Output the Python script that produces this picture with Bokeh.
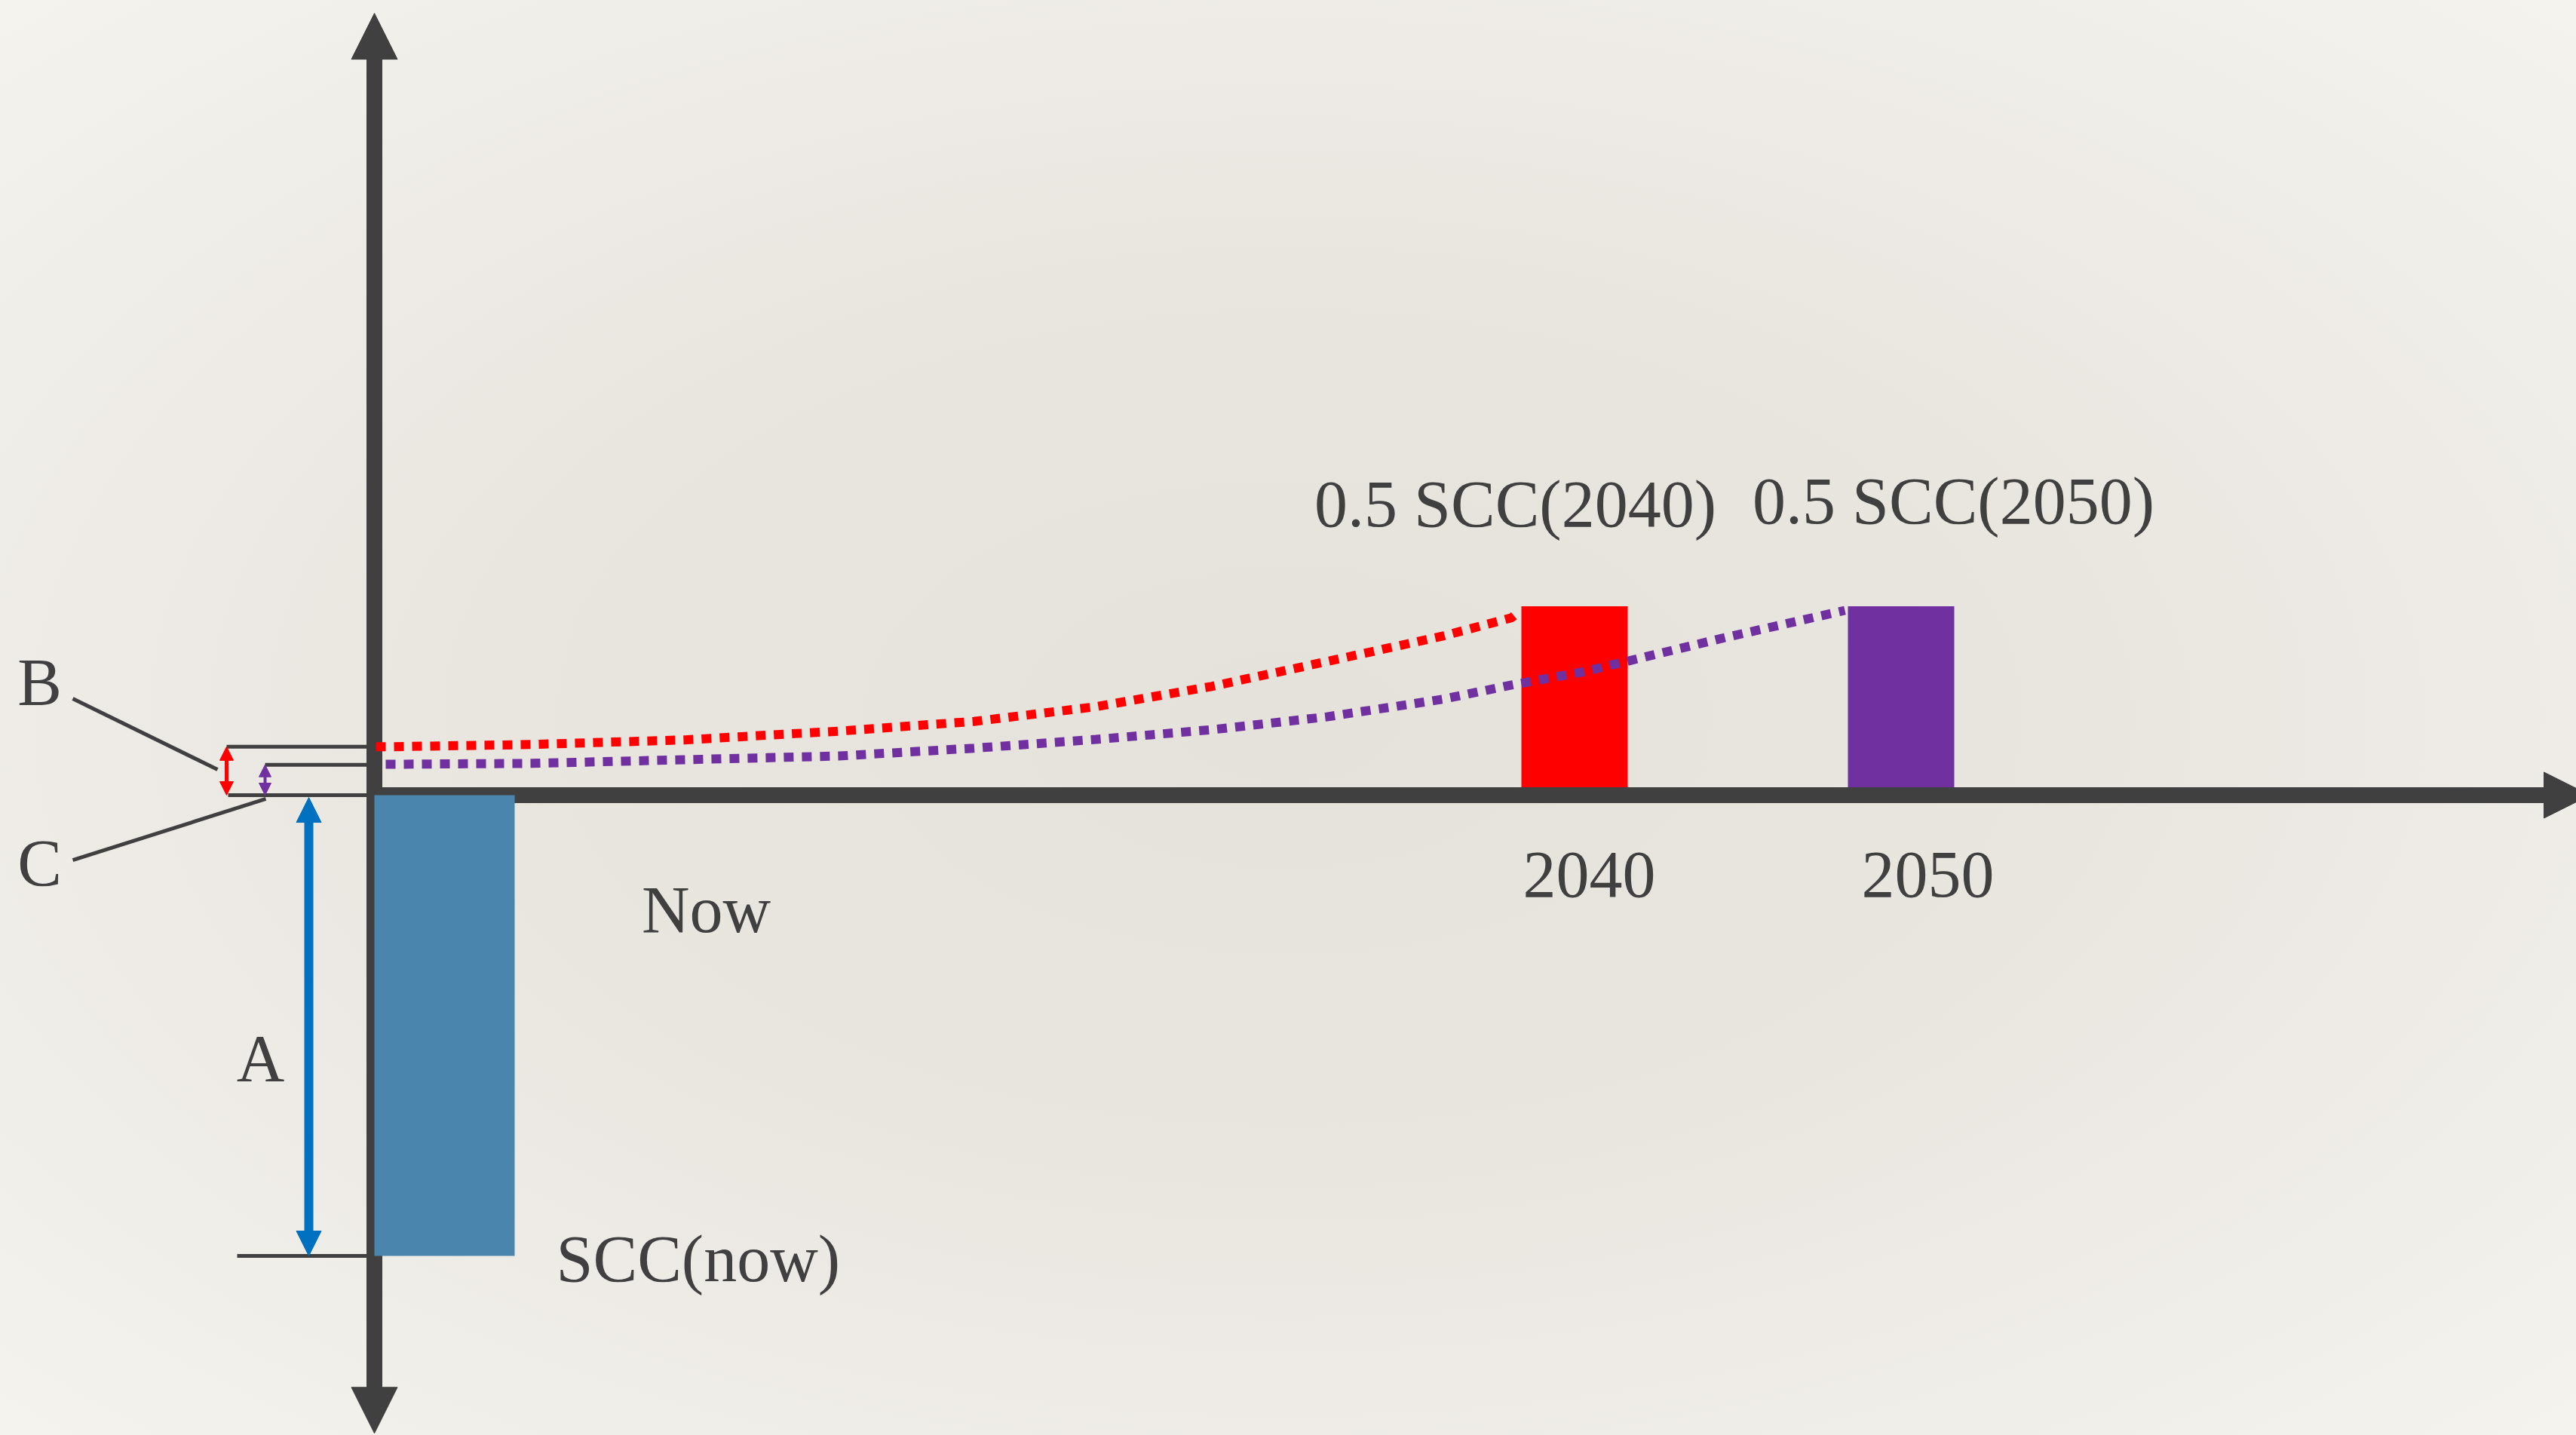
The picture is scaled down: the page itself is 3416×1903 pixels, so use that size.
from bokeh.plotting import figure
from bokeh.models import Range1d, Arrow, NormalHead, ColumnDataSource
from bokeh.core.properties import value
from bokeh.embed import file_html
from bokeh.resources import INLINE

# ---------------- data (schematic units) ----------------
periods = ["Now", "2040", "2050"]
bar_labels = ["SCC(now)", "0.5 SCC(2040)", "0.5 SCC(2050)"]
bar_values = [-100.0, 41.0, 41.0]          # SCC(now) drawn downward, half SCCs upward
bar_left = [0.0, 152.1, 195.4]            # schematic time position (left edge)
bar_right = [18.6, 166.2, 209.5]

level_B = 10.5     # present value of 0.5 SCC(2040)
level_C = 6.6      # present value of 0.5 SCC(2050)
level_A = -100.0   # SCC(now)

red_x = [0.2, 1.4, 20.8, 41.2, 61.6, 79.5, 95.7, 111.0, 126.3, 141.6, 150.8, 151.6]
red_y = [10.5, 10.5, 11.0, 12.0, 13.9, 16.0, 19.2, 23.6, 29.0, 34.5, 38.5, 39.6]
purple_x = [1.5, 20.8, 41.2, 61.6, 79.5, 95.7, 111.0, 126.3, 141.6, 150.8, 160.4, 179.1, 195.0]
purple_y = [6.7, 6.9, 7.7, 8.5, 10.2, 12.1, 14.2, 17.0, 20.8, 23.9, 26.8, 34.2, 40.1]

# ---------------- styles ----------------
DARK = "#404040"
RED = "#FF0000"
PURPLE = "#7030A0"
BLUE = "#0070C0"
BAR_BLUE = "#4A85AD"
FONT = value("Liberation Serif")
FS = "88px"
TEXT_SHIFT = -26

W, H = 3416, 1903
p = figure(width=W, height=H, output_backend="svg", toolbar_location=None,
           x_range=Range1d(-49.6, 292.0), y_range=Range1d(-138.95, 172.50),
           min_border=0, outline_line_color=None)
p.axis.visible = False
p.grid.visible = False
p.background_fill_alpha = 0
p.border_fill_alpha = 0

# future bars (under the axis)
fut = ColumnDataSource(dict(left=bar_left[1:], right=bar_right[1:],
                            top=bar_values[1:], bottom=[0, 0], color=[RED, PURPLE]))
p.quad(left="left", right="right", top="top", bottom="bottom", source=fut,
       fill_color="color", line_color=None)

# axes shafts
p.segment(x0=[0, -1.0], y0=[-129.5, 0], x1=[0, 288.5], y1=[160.5, 0],
          line_color=DARK, line_width=21, line_cap="butt")

# axis arrow heads
for xs, ys, xe, ye in [(0, 150, 0, 169.7), (0, -120, 0, -138.5), (280, 0, 293.8, 0)]:
    p.add_layout(Arrow(end=NormalHead(size=61, fill_color=DARK, line_color=DARK, line_width=1),
                       x_start=xs, y_start=ys, x_end=xe, y_end=ye, line_alpha=0))

# SCC(now) bar (on top of axes)
p.quad(left=[bar_left[0]], right=[bar_right[0]], top=[0], bottom=[bar_values[0]],
       fill_color=BAR_BLUE, line_color=None)

# level lines at B, C, 0, A
p.segment(x0=[-19.6, -14.5, -19.4, -18.2], y0=[level_B, level_C, 0, level_A],
          x1=[-0.9, -0.9, -0.9, -0.9], y1=[level_B, level_C, 0, level_A],
          line_color=DARK, line_width=5, line_cap="butt")

# leader lines for B and C
p.segment(x0=[-40.0, -40.0], y0=[20.95, -14.1], x1=[-20.8, -14.4], y1=[5.56, -0.8],
          line_color=DARK, line_width=5)

# double arrows
def double_arrow(x, y0, y1, color, width, head, head_units):
    p.segment(x0=[x], y0=[y0 + head_units * 0.85], x1=[x], y1=[y1 - head_units * 0.85],
              line_color=color, line_width=width, line_cap="butt")
    mid = (y0 + y1) / 2
    for ye in (y0, y1):
        p.add_layout(Arrow(end=NormalHead(size=head, fill_color=color, line_color=color, line_width=1),
                           x_start=x, y_start=mid, x_end=x, y_end=ye, line_alpha=0))

double_arrow(-19.6, 0.0, level_B, RED, 5, 18, 18 / 6.11)
double_arrow(-14.5, 0.0, level_C, PURPLE, 4, 16, 16 / 6.11)
double_arrow(-8.7, level_A, -0.5, BLUE, 12, 33, 33 / 6.11)

# dotted discounting curves
p.line(red_x, red_y, line_color=RED, line_width=12, line_dash="13 11", line_cap="butt")
p.line(purple_x, purple_y, line_color=PURPLE, line_width=12, line_dash="13 11", line_cap="butt")

# labels
center_labels = ColumnDataSource(dict(
    x=[-44.4, -44.4, -15.1, 44.0, 151.3, 209.4, 161.1, 206.0],
    y=[20.3, -19.0, -61.4, -29.1, 58.9, 59.6, -21.6, -21.6],
    t=["B", "C", "A", periods[0], bar_labels[1], bar_labels[2], periods[1], periods[2]]))
p.text(x="x", y="y", text="t", source=center_labels, text_font=FONT, text_font_size=FS,
       text_color=DARK, text_align="center", text_baseline="alphabetic", y_offset=TEXT_SHIFT)
p.text(x=[24.1], y=[-104.9], text=[bar_labels[0]], text_font=FONT, text_font_size=FS,
       text_color=DARK, text_align="left", text_baseline="alphabetic", y_offset=TEXT_SHIFT)

html = file_html(p, INLINE, title="SCC schematic")
style = ("<style>html{min-height:100%;background:radial-gradient(ellipse at 50% 50%, "
         "#E5E2DC 0%, #E9E6E0 45%, #EFEDE8 75%, #F5F3EE 100%);}"
         "body{background:transparent;}</style>")
html = html.replace("</head>", style + "</head>", 1)
open("out.html", "w").write(html)
